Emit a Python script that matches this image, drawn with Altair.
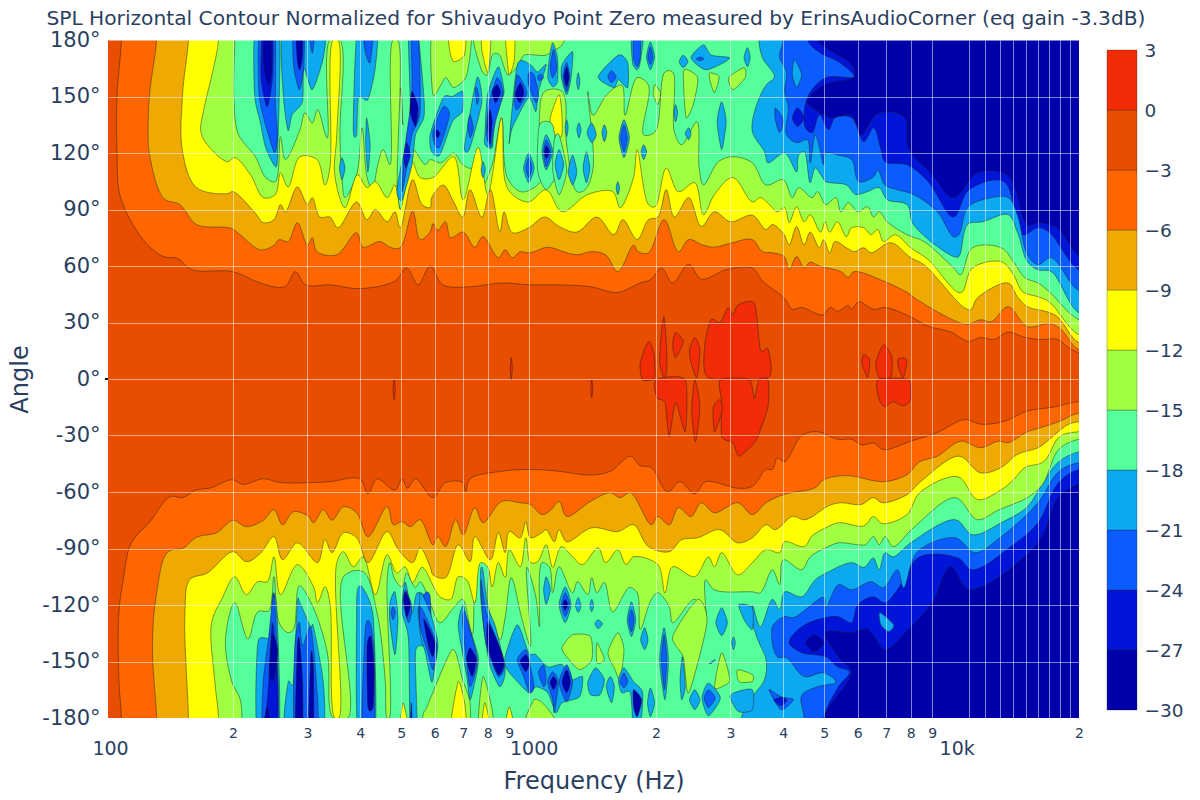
import altair as alt
import pandas as pd

TITLE = "SPL Horizontal Contour Normalized for Shivaudyo Point Zero measured by ErinsAudioCorner (eq gain -3.3dB)"
TXT = "#2a3f5f"
FONT = "DejaVu Sans"
LEVELS = [-30,-27,-24,-21,-18,-15,-12,-9,-6,-3,0,3]
COLORS = ["#0000aa","#0015d8","#0a5cff","#0ca8f0","#55ff99","#a0ff40","#ffff00","#eeaa00","#ff6600","#e84e00","#f22c07"]
PAL = {"N":COLORS[0],"M":COLORS[1],"B":COLORS[2],"C":COLORS[3],"T":COLORS[4],"G":COLORS[5],"Y":COLORS[6],"R":COLORS[10]}

# contour lines: (frequency Hz, angle deg), upper and lower side of each level
m27_up = [(4820,180),(5800,166.9),(5880,160.5),(4980,156),(4560,147.2),(4900,141.4),(5220,138.7),(5800,140.3),(6100,129.7),(6620,140.3),(7180,141.9),(7760,138.7),(7900,122.8),(9000,108.5),(10100,96.3),(11500,109.5),(13600,108),(15100,82),(16000,83),(17800,80.3),(20000,66)]
m27_dn = [(4980,-180),(5800,-155.4),(5470,-149),(5040,-134.7),(5800,-134.7),(6330,-133),(6960,-143.7),(7900,-133),(9000,-118.8),(9950,-99.7),(11000,-111.9),(16000,-87),(17900,-62.5),(20000,-56)]
m24_up = [(4560,180),(4900,173),(5400,168.5),(5880,160.5),(5040,160),(4560,149.4),(4510,133.4),(4680,130.8),(4870,140.3),(5120,132.4),(5300,138.7),(5800,138.7),(6200,126),(6540,133.4),(6790,122.8),(6960,115.4),(7840,113.8),(8800,104.8),(10100,86),(11000,100.5),(13300,104.8),(14700,76.6),(16000,80.3),(17000,78),(20000,58)]
m24_dn = [(4980,-180),(5400,-163.4),(5740,-155.4),(5370,-152.8),(5040,-147.5),(4420,-145.3),(4130,-140),(4420,-131.5),(5040,-126.7),(5400,-126.2),(5800,-129.4),(6000,-119.8),(6530,-115.6),(6960,-118.8),(7440,-111.9),(8400,-94.4),(10350,-95),(11200,-101.3),(13800,-89),(16000,-76.3),(17900,-55),(20000,-48)]
m21_up = [(4000,180),(3920,171),(4070,163),(4030,152.6),(4110,144),(4070,129.7),(4300,125.5),(4560,127),(4630,114.8),(4760,129.7),(4870,122.8),(4980,113.8),(5030,120),(5370,119),(5800,116.5),(6030,104.8),(6540,107.4),(6690,111),(6960,103),(7440,100.5),(8120,98),(9250,88.8),(10100,75.5),(10400,76.6),(10900,91),(11850,95.2),(13600,96.3),(14300,87.2),(15100,66),(16000,60.7),(17200,64.4),(20000,46.9)]
m21_dn = [(4480,-180),(4420,-168),(4820,-163.4),(5330,-161),(4980,-156),(4480,-158),(4070,-148),(3870,-147.5),(3770,-131.5),(4030,-126.2),(4230,-126.7),(4980,-116),(5040,-121.4),(5400,-109.2),(5800,-111.9),(6450,-107.6),(6900,-110.8),(7440,-101.3),(7700,-110.8),(8300,-91.7),(10200,-84.3),(11350,-92.2),(13100,-83.7),(16000,-65.7),(17900,-49.2),(20000,-44.4)]
m18_up = [(3500,180),(3570,170.6),(3810,160.5),(3640,156),(3440,144),(3380,131.3),(3610,120.7),(3680,114.8),(4030,120),(4300,110),(4350,119),(4480,120.7),(4630,104.2),(4760,112),(4950,107),(5040,104.8),(5640,103),(5930,98),(6330,99.5),(6740,101.6),(7040,95.2),(7840,92.6),(8120,82),(10100,65),(10400,65),(10900,82),(11850,83.5),(13600,87.2),(14300,78),(15100,62.3),(16000,58),(17200,57),(20000,35.2)]
m18_dn = [(3180,-180),(3380,-168.7),(3610,-159.7),(3640,-149),(3480,-138.4),(3380,-129),(3380,-120),(3530,-131.5),(3770,-117),(3920,-122.5),(4030,-113),(4420,-115.6),(4760,-106.6),(5120,-102.3),(5800,-97.5),(6200,-100),(6530,-95),(6740,-101.3),(6960,-92.2),(7270,-94.4),(8000,-87),(10200,-74.7),(11200,-82.7),(13100,-76.3),(15100,-67.8),(16600,-53.5),(17900,-44),(20000,-38.6)]
m15_up = [(202,180),(201,150),(206,130),(226,118),(239,107),(252,104.8),(259,128.7),(266,116.5),(288,132.4),(296,141.4),(308,136),(317,143),(334,128),(339,180),(358,180),(358,129.7),(362,107),(368,96.3),(392,108.5),(404,133.4),(415,107),(427,100.5),(440,113.8),(453,121.8),(470,113.8),(478,180),(490,180),(491,95),(502,88.8),(515,100.5),(532,121.8),(570,113.8),(585,116.5),(620,114.8),(665,120),(698,113.8),(735,112),(760,121.8),(780,103),(820,113.8),(863,138.7),(890,107),(955,99.5),(1010,100.5),(1080,107),(1060,138.7),(1090,152.6),(1200,152.6),(1230,124.4),(1300,99.5),(1360,100.5),(1420,112),(1380,152.6),(1420,140),(1530,151),(1660,156),(1690,140),(1805,160),(1920,156),(1870,129.7),(1990,131.3),(2100,163),(2190,163),(2210,131.3),(2300,124.4),(2500,136.6),(2530,112),(2590,103),(2810,115.4),(3040,118),(3380,114.8),(3640,103),(4000,105.8),(4200,96.3),(4350,101.6),(4680,96.3),(4820,99.5),(5040,92.6),(5330,96.3),(5470,88.8),(5700,93.6),(6000,88.8),(6330,91.5),(6540,86),(6740,88.8),(7040,83.5),(7840,76.6),(8600,73),(10100,59),(10500,55.4),(11200,69.7),(13100,69.7),(14000,62.3),(14900,53.8),(16000,51),(17000,46.4),(20000,31.5)]
m15_dn = [(210,-180),(208,-170),(199,-161),(192,-138.4),(202,-118.8),(217,-138),(229,-123.6),(243,-123),(250,-105),(257,-129.4),(270,-134.7),(278,-133),(287,-109.8),(306,-118.8),(334,-145),(345,-180),(374,-180),(365,-105),(406,-102.3),(438,-124),(458,-159.7),(463,-180),(468,-180),(463,-106.6),(470,-97.5),(483,-106.6),(502,-110.3),(515,-103),(540,-110.8),(554,-107.6),(585,-118.8),(617,-129.4),(665,-121.4),(698,-117),(735,-135.8),(760,-97.5),(800,-96),(800,-118.8),(855,-138.4),(880,-126.7),(910,-105.5),(965,-127.8),(1010,-142),(990,-100),(1040,-115.6),(1060,-131.5),(1075,-97.5),(1120,-100),(1140,-113.5),(1180,-99.7),(1270,-113.5),(1305,-107.6),(1380,-114.5),(1410,-105.5),(1450,-113.5),(1510,-108),(1580,-123.6),(1730,-110.8),(1805,-113.5),(1835,-133),(1950,-117),(2020,-113.5),(2150,-121),(2190,-129.4),(2470,-117),(2620,-129.4),(2620,-106.6),(2750,-112),(3380,-113),(3530,-113.5),(3770,-101.3),(3920,-109.2),(4000,-96),(4420,-101.3),(4630,-94.4),(5040,-89.6),(5400,-87),(6000,-88),(6260,-88),(6530,-83.7),(6740,-88),(6960,-83.7),(7270,-89),(8120,-79),(10200,-63),(11500,-74.7),(12950,-69.4),(15100,-63),(16400,-56),(17900,-37.5),(20000,-32)]
m12_up = [(185,180),(179,163),(171,144),(168,131),(176,123),(194,115.4),(202,117.6),(220,108.5),(236,96.3),(252,98),(259,109.5),(270,102),(288,118),(316,116.5),(330,103),(339,112),(345,180),(354,180),(352,130),(348,108.5),(368,91),(394,108.5),(415,101.6),(434,104.8),(463,96.3),(483,103),(497,90),(502,92.6),(530,115.4),(554,107),(594,107),(665,118),(700,95.2),(760,123),(800,98),(863,138.7),(880,104.8),(915,98),(1000,94),(1100,100.5),(1200,88.8),(1380,98),(1580,99.5),(1645,91),(1770,107),(1805,121.8),(1920,92.6),(1990,91.5),(2115,112),(2260,99.5),(2470,104.2),(2590,87.2),(2750,98),(3040,107),(3380,94),(3530,96.3),(3710,92.6),(3870,88.8),(4030,91),(4130,83),(4300,91.5),(4480,83.5),(4630,87.2),(4900,78),(5020,83.5),(5150,78),(5370,83.5),(5640,75.5),(5800,80.3),(6200,80.3),(6450,76.6),(6690,79.3),(6900,73),(7360,76.6),(8000,69.7),(8800,63.4),(10500,45.8),(11200,59),(13100,62.3),(14000,55.4),(14700,46.4),(16000,43.7),(17000,41),(20000,23.5)]
m12_dn = [(185,-180),(181,-159.7),(178,-129.4),(188,-117),(202,-105),(215,-114.5),(229,-107.6),(241,-107.6),(250,-94.4),(259,-114.5),(284,-98.6),(310,-110.3),(317,-118.8),(330,-110.3),(339,-118.8),(348,-180),(356,-180),(352,-97.5),(365,-91.7),(385,-99.7),(406,-94.4),(434,-114.5),(463,-93.3),(488,-103),(510,-99.7),(532,-108),(560,-100),(617,-115.6),(654,-117),(682,-105),(714,-106.6),(746,-118.8),(770,-97.5),(800,-99.7),(820,-110.3),(848,-97.5),(880,-105.5),(900,-90.6),(955,-99.7),(985,-84.3),(1010,-97.5),(1050,-97),(1100,-88),(1140,-100),(1195,-89),(1270,-94.4),(1340,-98.6),(1460,-89.6),(1520,-97.5),(1625,-90.6),(1700,-98.6),(1770,-94.4),(2020,-98.6),(2100,-113.5),(2190,-99.7),(2470,-105),(2660,-94.4),(2750,-99.7),(2860,-92.2),(3120,-104),(3380,-97.5),(3640,-90.6),(3920,-92.2),(4030,-86.4),(4480,-89),(4680,-83.2),(5040,-79),(5400,-76.3),(6200,-78),(6530,-73),(6860,-76.8),(7840,-72),(8400,-60.4),(10350,-51.9),(11500,-64),(13100,-58.8),(14000,-53.5),(14900,-47),(16500,-43.9),(18000,-30.6),(20000,-28)]
m9_up = [(157,180),(152,151),(152,120.7),(164,101.6),(194,98.4),(200,99.5),(226,88),(236,83),(250,84.6),(259,92.6),(266,88.8),(284,102),(300,92.6),(308,96.3),(321,86),(339,86),(354,80.3),(392,94),(415,84.6),(434,90),(463,83.5),(483,88.8),(497,80.3),(532,105.8),(560,92.6),(585,91),(590,96.3),(628,103),(665,94),(698,86),(727,100.5),(775,86),(812,100.5),(855,78),(875,88.8),(915,77.7),(1000,80.3),(1090,86),(1180,81),(1300,78),(1450,86),(1590,76.6),(1670,84.6),(1805,74),(1920,84.6),(2020,86),(2115,100.5),(2210,86),(2390,96.3),(2560,81),(2750,88.8),(3000,83.5),(3380,87),(3640,79.3),(3770,82),(4020,76.6),(4130,71.3),(4300,81),(4480,71.3),(4630,78),(4870,69.7),(4980,74),(5150,67),(5300,73),(5640,69.7),(5880,67.6),(6200,69.7),(6450,67),(7180,72.4),(8000,64.4),(8600,60.7),(10700,37.9),(11100,36.8),(11500,43),(13600,51),(14300,43.7),(15100,38.4),(16800,35.7),(17800,33),(20000,19.3)]
m9_dn = [(157,-180),(154,-124),(158,-106.6),(174,-103),(200,-91.7),(215,-97),(232,-92.7),(250,-83.7),(262,-96),(284,-87),(317,-97.5),(330,-85.3),(343,-92.2),(365,-81.6),(392,-84.3),(417,-97.5),(463,-81),(492,-90.6),(532,-97.5),(554,-89.6),(585,-99.7),(594,-104),(636,-105.5),(682,-88),(727,-97),(746,-83.7),(812,-96),(848,-81.6),(880,-92.2),(900,-81),(955,-84.3),(985,-75.8),(1010,-84.3),(1075,-81.6),(1100,-80),(1150,-86.4),(1180,-80),(1230,-86.4),(1410,-79),(1625,-81),(1770,-77.4),(1920,-89),(2150,-91.7),(2300,-85.3),(2510,-84.3),(2830,-80),(3120,-87),(3380,-84.3),(3640,-77.4),(3830,-80),(4200,-73),(4510,-74.7),(5120,-67.3),(5470,-65.7),(6100,-66.7),(6530,-63),(6860,-65.7),(7840,-61.4),(8400,-55),(10400,-41),(11700,-49.8),(13100,-47),(14300,-40),(16000,-36.5),(17000,-32.2),(18800,-24.3),(20000,-22.7)]
m6_up = [(132,180),(127,151),(126,130),(127,119),(137,96),(150,92.5),(164,82),(198,80),(208,76.6),(232,68.6),(250,71),(257,74),(270,73),(284,83),(300,71),(308,75),(316,67.6),(352,66),(392,77.7),(406,70),(445,73),(470,70),(497,69.7),(532,89),(554,74),(585,78),(594,82.5),(610,79),(636,83.5),(654,75),(700,78),(746,70),(780,75.6),(848,64.4),(880,68.6),(915,64.4),(955,67.6),(990,67),(1030,67.6),(1110,70),(1230,67),(1305,66),(1410,67.6),(1520,66),(1625,57),(1770,71),(1815,67.6),(1920,67),(2090,84.6),(2260,67.6),(2390,74),(2590,71),(2750,70),(2990,72),(3380,74),(3570,67.6),(3770,67),(4020,65),(4130,58),(4300,65),(4480,59),(4630,62),(4870,60),(5470,57),(5700,54),(5880,57),(6900,52),(7840,46),(8300,42),(10850,29),(11700,31.5),(12400,30.4),(13600,38.4),(15100,27.8),(17000,29.4),(18000,27),(20000,15.6)]
m6_dn = [(132,-180),(129,-142),(132,-113.5),(140,-92),(153,-89.6),(164,-84),(183,-81.6),(200,-75),(215,-78.4),(236,-75),(250,-69.4),(262,-77.4),(278,-70.5),(302,-73),(310,-76.3),(327,-69.4),(343,-75),(365,-67.8),(392,-71),(417,-83.7),(463,-67.8),(479,-77.4),(502,-75.8),(525,-78.4),(554,-74.7),(594,-88),(610,-83.7),(636,-89),(672,-74.7),(700,-82.7),(746,-68.3),(780,-76.3),(863,-65),(955,-65.7),(1010,-66.7),(1075,-72),(1130,-69.4),(1180,-65),(1230,-73),(1400,-65),(1560,-60.4),(1645,-63),(1740,-60.4),(1950,-77.4),(2020,-73),(2150,-77.4),(2260,-68.3),(2420,-73),(2560,-65.7),(2750,-71),(3120,-65.7),(3380,-72),(3640,-65.7),(4000,-61.4),(4760,-57.7),(4980,-53.5),(5660,-51.3),(6900,-54.5),(7840,-50.8),(8400,-44),(9250,-41),(10500,-33),(11700,-36.5),(12900,-33),(13600,-33.8),(15100,-28),(16200,-25.9),(17900,-22.7),(20000,-18)]
m3_up = [(109,180),(106.4,150),(106.4,121),(108,98),(116,82),(126,71),(137,65),(148,64),(160,58),(200,57),(232,51),(265,49),(281,57),(297,50),(339,50),(399,48),(483,52),(515,59),(548,50),(585,60),(627,50),(727,49),(863,51),(1010,50),(1180,50),(1400,49),(1620,46),(1835,51),(1950,53),(2060,59),(2190,51),(2390,61),(2560,53),(2930,58),(3380,59),(3570,52),(4020,43),(4200,37),(4420,38),(4950,34),(5170,38),(5370,36),(5700,39),(5800,37),(6030,41),(6540,37),(6960,38),(8000,33),(8800,28),(9950,25),(10950,20),(11700,22),(12600,21),(13600,25),(14700,22.5),(16000,21),(17800,21),(18800,17),(20000,14)]
m3_dn = [(109,-180),(107.5,-160),(107.5,-124),(110,-107),(115,-87),(127,-76),(142,-62.5),(152,-63),(163,-59),(176,-58),(199,-53.5),(211,-56),(236,-53),(259,-55),(305,-55),(339,-54.5),(399,-53),(417,-61),(438,-53),(483,-59),(502,-53),(517,-58),(540,-53),(594,-63),(636,-55),(698,-55),(710,-60),(727,-53),(863,-49),(1010,-48),(1180,-49),(1400,-51),(1560,-49),(1740,-41),(1835,-46),(1950,-47),(2130,-60),(2280,-54.5),(2470,-61),(2620,-54.5),(3120,-58),(3380,-57),(3640,-48),(3770,-48),(3870,-42),(4030,-44),(4420,-30),(4820,-28),(5370,-32),(5800,-32),(6130,-35),(6540,-34),(6910,-37.5),(8000,-33),(9230,-28.5),(10730,-21.5),(11700,-24),(13300,-22.5),(15100,-17),(17300,-15),(20000,-12)]
CONTOURS = [(m27_up,m27_dn,COLORS[1]),(m24_up,m24_dn,COLORS[2]),(m21_up,m21_dn,COLORS[3]),(m18_up,m18_dn,COLORS[4]),(m15_up,m15_dn,COLORS[5]),(m12_up,m12_dn,COLORS[6]),(m9_up,m9_dn,COLORS[7]),(m6_up,m6_dn,COLORS[8]),(m3_up,m3_dn,COLORS[9])]

# closed islands of each level, upper half
ISLANDS_UP = [
("G",[(594,186),(594,151),(636,160),(665,154.7),(714,161.5),(727,186)]),
("G",[(755,186),(770,165.3),(800,161.5),(820,172),(855,172),(890,161.5),(935,165.3),(975,172),(1040,172),(1100,172),(1200,177.5),(1200,186)]),
("Y",[(648,186),(650,174.9),(665,168.5),(705,172),(708,186)]),
("Y",[(775,186),(775,174.9),(800,162.6),(812,174.9),(812,186)]),
("Y",[(880,186),(890,169.4),(900,161.5),(925,169.4),(925,186)]),
("Y",[(498,154.7),(502,148.3),(504,135),(500,145.7)]),
("Y",[(1180,151),(1200,138.7),(1195,128.7),(1140,130.8),(1125,138.7)]),
("G",[(2330,164.2),(2510,160),(2450,145.7),(2360,138.7),(2330,151)]),
("G",[(2680,162.6),(2820,160.5),(2750,152),(2680,158.9)]),
("G",[(2970,160),(3230,165.3),(3250,160),(3040,153.6)]),
("G",[(1985,156.3),(2050,152),(2020,145.7),(1970,151)]),
("T",[(1060,134.8),(1140,134.8),(1170,111),(1100,100.5),(1050,111)]),
("T",[(1150,127),(1180,129.7),(1230,111),(1180,97.8),(1140,111)]),
("C",[(226,186),(225,151),(232,136.6),(239,122.8),(252,112.7),(255,120.7),(257,186)]),
("B",[(231,186),(231,149.4),(250,120.7),(255,129.7),(252,145.7),(251,186)]),
("M",[(235,186),(233,160),(241,144.6),(248,160),(248,186)]),
("N",[(236,186),(237,165.3),(243,156.3),(247,165.3),(245,186)]),
("C",[(263,186),(263,151),(270,131.9),(276,140.3),(292,147.2),(294,165.3),(308,153.6),(327,170.6),(327,186)]),
("B",[(278,186),(278,166.9),(287,153.6),(294,165.3),(294,186)]),
("N",[(282,186),(284,168.5),(288,164.2),(292,172),(292,186)]),
("B",[(302,186),(308,173),(312,186)]),
("C",[(394,186),(385,133.4),(392,129.7),(396,149.4),(417,148.3),(434,165.3),(438,186)]),
("B",[(406,186),(411,173.8),(422,168),(429,186)]),
("C",[(414,138.7),(422,124.4),(417,110),(412,124.4)]),
("C",[(362,117.5),(368,112),(362,105.8),(357,112)]),
("C",[(520,186),(525,147.2),(520,129.7),(502,115.4),(488,99.5),(502,95.2),(530,113.8),(540,129.7),(565,138.7),(565,151),(545,186)]),
("B",[(528,186),(530,152.6),(510,122.8),(502,99.5),(515,112),(530,129.7),(554,142),(548,186)]),
("N",[(530,152.6),(525,142),(540,134),(548,144)]),
("M",[(515,125.5),(525,119),(512,112),(507,119)]),
("C",[(585,129.7),(628,149.4),(660,150),(698,152.6),(698,142),(660,136.6),(617,119),(590,120.7)]),
("B",[(594,131.3),(628,144.6),(650,140.3),(617,123.4),(600,124.4)]),
("N",[(605,132.4),(617,130.8),(610,128),(602,129.7)]),
("C",[(708,126),(755,160),(775,147.2),(727,122.8),(708,120.7)]),
("B",[(718,135),(727,140.3),(740,133.4),(727,128)]),
("B",[(748,153.6),(755,154.7),(763,149.4),(755,145.7)]),
("C",[(788,129.7),(800,151),(848,165.8),(875,152.6),(855,145.7),(827,135),(820,122.8),(788,124.4)]),
("B",[(795,129.7),(805,145.7),(842,160),(870,152),(835,136.6),(815,123.4)]),
("N",[(800,135),(810,143),(820,136),(810,125)]),
("N",[(820,152.6),(842,156.3),(858,152),(835,146.7)]),
("C",[(900,126),(940,166.9),(1010,166.9),(1050,163),(1100,166.9),(1055,152.6),(1040,142),(1000,149.4),(915,133.4)]),
("B",[(925,147.2),(940,161.5),(990,152),(940,143)]),
("N",[(930,151),(955,157.3),(975,152),(955,146.7)]),
("B",[(1000,162.6),(1030,161.5),(1055,151),(1040,146.7),(1000,156.3)]),
("B",[(1065,162),(1085,160),(1060,158.4),(1050,160)]),
("C",[(1140,178.6),(1170,170.6),(1170,157.9),(1140,155.2),(1110,160),(1120,170.6)]),
("B",[(1145,174.9),(1165,165.3),(1140,160),(1125,165.3)]),
("C",[(1270,173.8),(1260,160),(1230,151),(1195,160),(1200,166.9)]),
("B",[(1230,168),(1250,160.5),(1230,152.6),(1205,160.5)]),
("N",[(1230,165.8),(1245,160.5),(1230,155.2),(1212,160.5)]),
("C",[(1310,162.6),(1322,157.9),(1310,153.6),(1298,157.9)]),
("C",[(1460,160.5),(1630,172),(1715,168),(1715,154.7),(1630,158.9),(1590,154.7)]),
("B",[(1540,160.5),(1570,163.7),(1610,160.5),(1570,157.3)]),
("C",[(1750,186),(1870,186),(1835,168),(1805,164.2),(1760,168)]),
("B",[(1770,186),(1835,186),(1835,170.6),(1805,165.8),(1770,170.6)]),
("C",[(1940,179),(1985,171),(1940,164.2),(1900,171)]),
("B",[(1940,176.4),(1965,171),(1940,166.9),(1915,171)]),
("C",[(2320,172),(2380,168.5),(2320,165.3),(2270,168.5)]),
("C",[(2590,177.5),(2700,172),(2990,170.6),(2830,166.9),(2610,164.2),(2420,170.6)]),
("B",[(2540,171),(2600,170),(2540,169),(2490,170)]),
("C",[(3290,176),(3340,170.6),(3290,165.8),(3230,170.6)]),
("C",[(1100,129.7),(1140,120.7),(1100,111),(1075,120.7)]),
("B",[(1100,127),(1130,120.7),(1100,112.7),(1085,120.7)]),
("N",[(1100,123.9),(1120,120.7),(1100,117),(1090,120.7)]),
("C",[(1180,121.8),(1210,113.8),(1180,105.8),(1155,113.8)]),
("C",[(1270,119),(1300,110),(1270,103),(1240,110)]),
("C",[(1370,120.7),(1395,112),(1370,104.2),(1345,112)]),
("C",[(1000,120),(1030,112),(1000,104.2),(973,112)]),
("B",[(1000,117.5),(1018,112),(1000,106.9),(985,112)]),
("C",[(780,115.4),(790,111),(780,106.9),(772,111)]),
("C",[(1230,137.7),(1240,133.4),(1230,128.7),(1220,133.4)]),
("C",[(1315,136),(1330,132.4),(1315,128),(1300,132.4)]),
("C",[(1410,136),(1445,129.7),(1410,125.5),(1375,130.8)]),
("C",[(1510,135),(1530,130.8),(1510,126),(1490,130.8)]),
("C",[(1680,137.7),(1730,128),(1680,117.5),(1635,128)]),
("B",[(1680,135),(1710,128),(1680,120.7),(1650,128)]),
("C",[(1870,124.4),(1900,120.7),(1870,116.5),(1845,120.7)]),
("C",[(2225,145.7),(2250,141.4),(2225,136.6),(2205,141.4)]),
("C",[(2390,133.4),(2420,130.3),(2390,127),(2345,130.3)]),
("C",[(2860,147.2),(2930,136.6),(2860,121.8),(2790,136.6)]),
("C",[(1625,104.8),(1640,101.6),(1625,97.8),(1610,101.6)]),
("C",[(4250,169.6),(4420,161.5),(4300,155),(4200,161.5)]),
("B",[(3830,144),(4000,137.7),(3920,130.8),(3830,137.7)]),
("M",[(4200,138.7),(4320,144),(4480,138.7),(4320,134)]),
]
# closed islands of each level, lower half
ISLANDS_DN = [
("G",[(1200,-142.7),(1270,-135.8),(1400,-136.8),(1410,-149),(1320,-154.4),(1230,-147.5)]),
("G",[(1450,-140),(1510,-149),(1450,-150.7)]),
("G",[(1540,-145.3),(1625,-134.7),(1680,-143.7),(1645,-159.7),(1600,-154.4)]),
("G",[(565,-177),(575,-174),(660,-143.7),(698,-159.7),(727,-171.9),(714,-186),(565,-186)]),
("G",[(760,-186),(780,-158),(820,-175.6),(820,-186)]),
("G",[(975,-186),(1030,-170.3),(1100,-174),(1180,-186)]),
("G",[(2190,-136.8),(2510,-117),(2640,-129.4),(2390,-166.6),(2320,-147.5)]),
("G",[(2750,-163.4),(2860,-145.3),(2990,-159.7),(2860,-163.4)]),
("G",[(3120,-154.4),(3380,-157),(3380,-160.7),(3140,-160.7)]),
("Y",[(654,-186),(682,-160.7),(708,-174),(708,-186)]),
("Y",[(775,-186),(788,-171.9),(812,-186)]),
("Y",[(880,-186),(900,-174),(925,-186)]),
("Y",[(497,-186),(505,-171.9),(520,-186)]),
("C",[(228,-186),(229,-140),(245,-136.8),(248,-114.5),(254,-122.5),(257,-186)]),
("B",[(235,-186),(236,-159.7),(243,-136.8),(250,-113.5),(255,-152.8),(255,-186)]),
("M",[(239,-186),(243,-161),(248,-129.4),(255,-159.7),(254,-186)]),
("N",[(244,-156),(248,-135.8),(255,-143.7),(250,-159.7)]),
("N",[(236,-186),(241,-174),(245,-186)]),
("C",[(266,-186),(270,-161),(278,-161),(284,-118.8),(288,-118.8),(305,-131.5),(310,-131.5),(327,-161),(325,-186)]),
("B",[(280,-186),(280,-142),(287,-129),(292,-142),(305,-131.5),(313,-152.8),(317,-186)]),
("N",[(281,-186),(284,-142),(287,-138.4),(292,-159.7),(292,-186)]),
("N",[(302,-186),(306,-145.3),(310,-154.4),(310,-186)]),
("C",[(394,-111.9),(404,-110.3),(429,-126.2),(434,-186),(394,-186),(392,-124)]),
("B",[(411,-133),(422,-129.4),(431,-145.3),(431,-186),(404,-186)]),
("N",[(415,-142),(424,-136.8),(431,-152.8),(429,-174),(417,-174)]),
("C",[(470,-118.8),(483,-113),(491,-127.8),(483,-146.4),(470,-129.4)]),
("B",[(478,-120.9),(484,-124),(478,-127.8),(473,-124)]),
("C",[(505,-113.5),(512,-108),(530,-124),(545,-113.5),(585,-118.8),(585,-147.5),(565,-142),(540,-145.3),(545,-186),(525,-186),(520,-138.4),(502,-124)]),
("B",[(505,-118.8),(512,-111.9),(530,-120.9),(520,-129.4)]),
("N",[(507,-117),(512,-113),(525,-119.8),(515,-126.7)]),
("B",[(548,-122.5),(570,-113.5),(585,-115.6),(585,-138.4),(560,-136.8)]),
("N",[(565,-131.5),(585,-127.8),(585,-143.7),(575,-138.4)]),
("M",[(525,-186),(528,-171.9),(531,-186)]),
("C",[(554,-113.5),(585,-124),(610,-140),(600,-152.8),(590,-161),(570,-145.3),(554,-134.7)]),
("B",[(554,-120.9),(580,-129.4),(607,-142),(594,-154.4),(575,-143.7),(554,-131.5)]),
("N",[(565,-127.8),(580,-132),(600,-140),(594,-147.5),(580,-142)]),
("C",[(700,-119.8),(714,-127.8),(760,-147.5),(746,-161),(727,-170.3),(714,-158),(682,-131.5)]),
("B",[(698,-127.8),(708,-124),(755,-149),(727,-163.4),(708,-143.7)]),
("N",[(714,-149),(727,-142.7),(752,-149),(735,-158)]),
("C",[(770,-101.3),(780,-101.3),(800,-120.9),(835,-131.5),(880,-154.4),(855,-163.4),(812,-152.8),(788,-136.8),(770,-115.6)]),
("B",[(772,-106.6),(795,-124),(875,-150.7),(848,-158),(795,-142),(775,-120.9)]),
("N",[(800,-129.4),(835,-136.8),(875,-150.1),(848,-157),(800,-142)]),
("C",[(880,-147.5),(940,-130.5),(1000,-145.3),(1040,-146.4),(1110,-152.8),(1200,-151.7),(1260,-159.7),(1340,-158),(1320,-168.7),(1200,-171.9),(1160,-177.2),(1110,-166.6),(1040,-163.4),(1000,-166.6),(890,-154.4)]),
("B",[(940,-149),(985,-143.7),(1005,-150.7),(1030,-163.4),(1005,-166.6),(973,-158)]),
("N",[(955,-150),(985,-146.4),(1005,-150.7),(985,-155.4)]),
("B",[(1055,-156),(1085,-151.7),(1100,-159.7),(1085,-163.4)]),
("B",[(1110,-161),(1140,-155.4),(1175,-161),(1150,-177.2),(1140,-170.3)]),
("N",[(1125,-161),(1145,-158),(1165,-161),(1145,-165)]),
("B",[(1180,-161),(1230,-151.7),(1270,-161),(1230,-171.4)]),
("N",[(1200,-161),(1230,-154.4),(1255,-161),(1230,-166.6)]),
("C",[(1440,-153.3),(1510,-159.7),(1475,-167.6),(1400,-167.6),(1380,-161)]),
("C",[(1560,-158),(1595,-163.4),(1570,-171.9),(1525,-163.4)]),
("C",[(1680,-153.3),(1770,-160.7),(1860,-166.6),(1835,-186),(1770,-186),(1740,-166.6),(1660,-166.6),(1630,-159.7)]),
("B",[(1680,-156),(1715,-160.7),(1680,-164),(1645,-160.7)]),
("N",[(1770,-165),(1850,-170.3),(1805,-179.3),(1770,-174)]),
("C",[(1940,-164),(1985,-171.9),(1940,-179.3),(1910,-171.9)]),
("C",[(1100,-105),(1125,-111.9),(1100,-119.8),(1085,-111.9)]),
("C",[(1220,-110.3),(1260,-119.8),(1220,-129.4),(1180,-119.8)]),
("B",[(1220,-113.5),(1250,-119.8),(1220,-126.2),(1195,-119.8)]),
("N",[(1220,-117),(1238,-119.8),(1220,-123),(1205,-119.8)]),
("C",[(1310,-116),(1330,-120.4),(1310,-124),(1290,-120.4)]),
("C",[(1410,-117),(1425,-120.4),(1410,-123.6),(1395,-120.4)]),
("C",[(1460,-127.8),(1495,-130),(1460,-132.6),(1435,-130)]),
("C",[(1750,-118.3),(1790,-127.8),(1750,-136.8),(1710,-127.8)]),
("B",[(1750,-122.5),(1775,-127.8),(1750,-134.2),(1725,-127.8)]),
("C",[(1880,-132),(1915,-138.4),(1880,-143.7),(1840,-138.4)]),
("C",[(2090,-132),(2140,-149),(2100,-170.3),(2040,-149)]),
("B",[(2090,-135.8),(2120,-149),(2095,-165),(2060,-149)]),
("C",[(2860,-121.4),(2950,-129.4),(2860,-136.3),(2770,-129.4)]),
("C",[(3050,-136.8),(3080,-140),(3050,-143.7),(3020,-140)]),
("C",[(2310,-147.5),(2345,-163.4),(2300,-170.3),(2280,-159.7)]),
("C",[(2470,-165),(2540,-170.3),(2470,-175.6),(2400,-170.3)]),
("C",[(2660,-161.4),(2840,-169.4),(2660,-178.9),(2570,-169.4)]),
("B",[(2660,-165),(2760,-169.4),(2660,-174.5),(2600,-169.4)]),
("C",[(2990,-168.7),(3110,-166),(3380,-165),(3380,-175.6),(3130,-176.6)]),
("C",[(3140,-119.8),(3380,-121.4),(3380,-133),(3230,-127.8)]),
("C",[(2710,-150),(2760,-149),(2710,-151),(2670,-151)]),
("B",[(3700,-165),(3950,-168.7),(4230,-170.3),(3950,-175.6)]),
("M",[(3950,-169),(4080,-170.5),(3950,-173.5),(3800,-170.5)]),
("N",[(4510,-140),(4740,-135.8),(4980,-140),(4740,-144.8)]),
("C",[(6760,-124),(7300,-130.5),(7100,-134.2),(6800,-130.5)]),
]
# islands above 0 dB
ISLANDS_RED = [
[(1920,19.8),(1975,14),(1985,0.7),(1860,-0.4),(1835,8.7)],
[(2090,33),(2120,15.6),(2120,3.9),(2090,0.7),(2040,8.7),(2060,24.6)],
[(2225,24.6),(2320,19.8),(2225,11.3),(2190,18.2)],
[(2470,22),(2540,15.6),(2500,0.7),(2420,8.7),(2400,15.6)],
[(2000,-0.4),(2345,-0.4),(2345,-28),(2225,-12.6),(2150,-30.6),(2100,-12.6),(2010,-10)],
[(2470,-0.4),(2540,-14.7),(2480,-33.3),(2430,-17.9)],
[(2610,18.2),(2700,31.5),(2840,29.9),(2960,37.9),(3040,34.1),(3130,39.4),(3420,40),(3530,15.6),(3680,16),(3680,0.7),(2660,0.7)],
[(2840,-0.4),(3320,-0.4),(3420,-10.5),(3500,-0.4),(3680,-0.4),(3680,-14.7),(3480,-30.6),(3380,-35),(3140,-41),(3040,-33.8),(2860,-30.6),(2860,-12.6)],
[(2730,-15.2),(2820,-11),(2860,-12.6),(2860,-17.9),(2750,-28)],
[(6200,12.9),(6400,10.2),(6330,0.7),(6130,8.7)],
[(6900,18.2),(7220,11.8),(7180,0.7),(6740,0.7),(6620,8.7)],
[(7480,10.8),(7840,10.2),(7680,0.7),(7480,6.5)],
[(6690,-0.4),(7900,-0.4),(8000,-11),(7680,-14.2),(7260,-12),(6960,-14.7),(6740,-11)],
[(481,-0.5),(484,-5.6),(481,-11),(478,-5.6)],
[(910,11.3),(915,5.5),(910,-0.4),(905,5.5)],
[(1410,-0.4),(1418,-5),(1410,-10),(1402,-5)],
]

GRID_F = [200,300,400,500,600,700,800,1000,2000,3000,4000,5000,6000,7000,8000,9000,11000,12000,13000,14000,15000,16000,17000,18000,19000,20000]
SMALL_F = [200,300,400,500,600,700,800,900,2000,3000,4000,5000,6000,7000,8000,9000,20000]
BIG_F = [1000,10000]
X_MIN = 101.3
ANGLES = list(range(-180,181,30))

XS = alt.Scale(type="log", domain=[X_MIN,20000], nice=False)
YS = alt.Scale(domain=[-180,180], nice=False)
X0 = alt.X("f:Q", scale=XS, axis=None)
Y0 = alt.Y("a:Q", scale=YS, axis=None)

def poly(points, color, interp, tension=None):
    df = pd.DataFrame(points, columns=["f","a"])
    df["i"] = range(len(df))
    kw = {"tension": tension} if tension is not None else {}
    return alt.Chart(df).mark_line(fill=color, stroke="#1a1a1a", strokeWidth=0.7, strokeOpacity=0.65, clip=True, interpolate=interp, **kw).encode(x=X0, y=Y0, order="i:Q")

def region(up, dn, color):
    pts = [(80,195),(up[0][0],195)] + up + [(23000,up[-1][1]),(23000,dn[-1][1])] + dn[::-1] + [(dn[0][0],-195),(80,-195)]
    return poly(pts, color, "catmull-rom")

bgdf = pd.DataFrame({"f":[80,23000,23000,80],"a":[-195,-195,195,195],"i":[0,1,2,3]})
base = alt.Chart(bgdf).mark_line(fill=COLORS[0], strokeWidth=0, clip=True).encode(
    x=alt.X("f:Q", scale=XS, axis=alt.Axis(values=GRID_F, title="Frequency (Hz)", orient="bottom", titleFontSize=24, titleFont=FONT, titleColor=TXT, titleFontWeight="normal", titlePadding=51,
                   labels=False, ticks=False, domain=False, grid=True, gridColor="#ffffff", gridOpacity=0.5, gridWidth=1, zindex=1)),
    y=alt.Y("a:Q", scale=YS, axis=alt.Axis(values=ANGLES, labelExpr="datum.value + '°'", title="Angle", titleFontSize=24, titleFont=FONT, titleColor=TXT, titleFontWeight="normal",
                   labelFontSize=21, labelFont=FONT, labelColor=TXT, ticks=False, domain=False, grid=True, gridColor="#ffffff", gridOpacity=0.5, gridWidth=1, zindex=1, labelPadding=8, titlePadding=9)),
    order="i:Q")

layers = [base]
for up, dn, c in CONTOURS:
    layers.append(region(up, dn, c))
for k, p in ISLANDS_UP + ISLANDS_DN:
    layers.append(poly(p, PAL[k], "cardinal-closed", 0.3))
for p in ISLANDS_RED:
    layers.append(poly(p, PAL["R"], "cardinal-closed", 0.3))

small = alt.Chart(pd.DataFrame({"f":SMALL_F})).mark_point(opacity=0, clip=True).encode(
    x=alt.X("f:Q", scale=XS, axis=alt.Axis(orient="bottom", values=SMALL_F, labelExpr="substring(format(datum.value,'d'),0,1)", labelFontSize=14, labelFont=FONT, labelColor=TXT, ticks=False, domain=False, grid=False, labelPadding=8, labelBound=False, labelOverlap=False, labelFlush=False, title=None)))
big = alt.Chart(pd.DataFrame({"f":BIG_F})).mark_point(opacity=0, clip=True).encode(
    x=alt.X("f:Q", scale=XS, axis=alt.Axis(orient="bottom", values=BIG_F, labelExpr="datum.value==10000 ? '10k' : format(datum.value,'d')", labelFontSize=19, labelFont=FONT, labelColor=TXT, ticks=False, domain=False, grid=False, labelPadding=21, labelOffset=5, labelOverlap=False, labelFlush=False, labelBound=False, title=None)))
first = alt.Chart(pd.DataFrame({"f":[X_MIN]})).mark_point(opacity=0, clip=True).encode(
    x=alt.X("f:Q", scale=XS, axis=alt.Axis(orient="bottom", values=[X_MIN], labelExpr="'100'", labelFontSize=19, labelFont=FONT, labelColor=TXT, ticks=False, domain=False, grid=False, labelPadding=21, labelOffset=2, labelOverlap=False, labelFlush=False, labelBound=False, title=None)))
tick = alt.Chart(pd.DataFrame({"a":[0]})).mark_rule(color="#111111", strokeWidth=2, clip=False).encode(y=alt.Y("a:Q", scale=YS, axis=None), x=alt.value(-3), x2=alt.value(0))

main = alt.layer(*layers, tick, small, big, first).resolve_axis(x="independent", y="independent").properties(width=971, height=678)

cb = pd.DataFrame({"lo":LEVELS[:-1],"hi":LEVELS[1:],"c":COLORS})
bar = alt.Chart(cb).mark_rect(stroke="#222222", strokeWidth=0.6, strokeOpacity=0.5).encode(
    y=alt.Y("lo:Q", scale=alt.Scale(domain=[-30.4,3.5], nice=False),
            axis=alt.Axis(orient="right", values=LEVELS, title=None, labelFontSize=18.5, labelFont=FONT, labelColor=TXT, ticks=False, domain=False, grid=False, labelPadding=7)),
    y2="hi:Q", x=alt.value(0), x2=alt.value(30), fill=alt.Fill("c:N", scale=None)).properties(width=30, height=678)

chart = alt.hconcat(main, bar, spacing=22, title=alt.TitleParams(TITLE, fontSize=20.2, font=FONT, color=TXT, fontWeight="normal", anchor="middle", offset=-3, dy=-3)).configure_view(stroke=None).properties(padding={"left":0,"top":0,"right":0,"bottom":0})
chart.save("out.html", embed_options={"renderer":"svg","actions":False})
